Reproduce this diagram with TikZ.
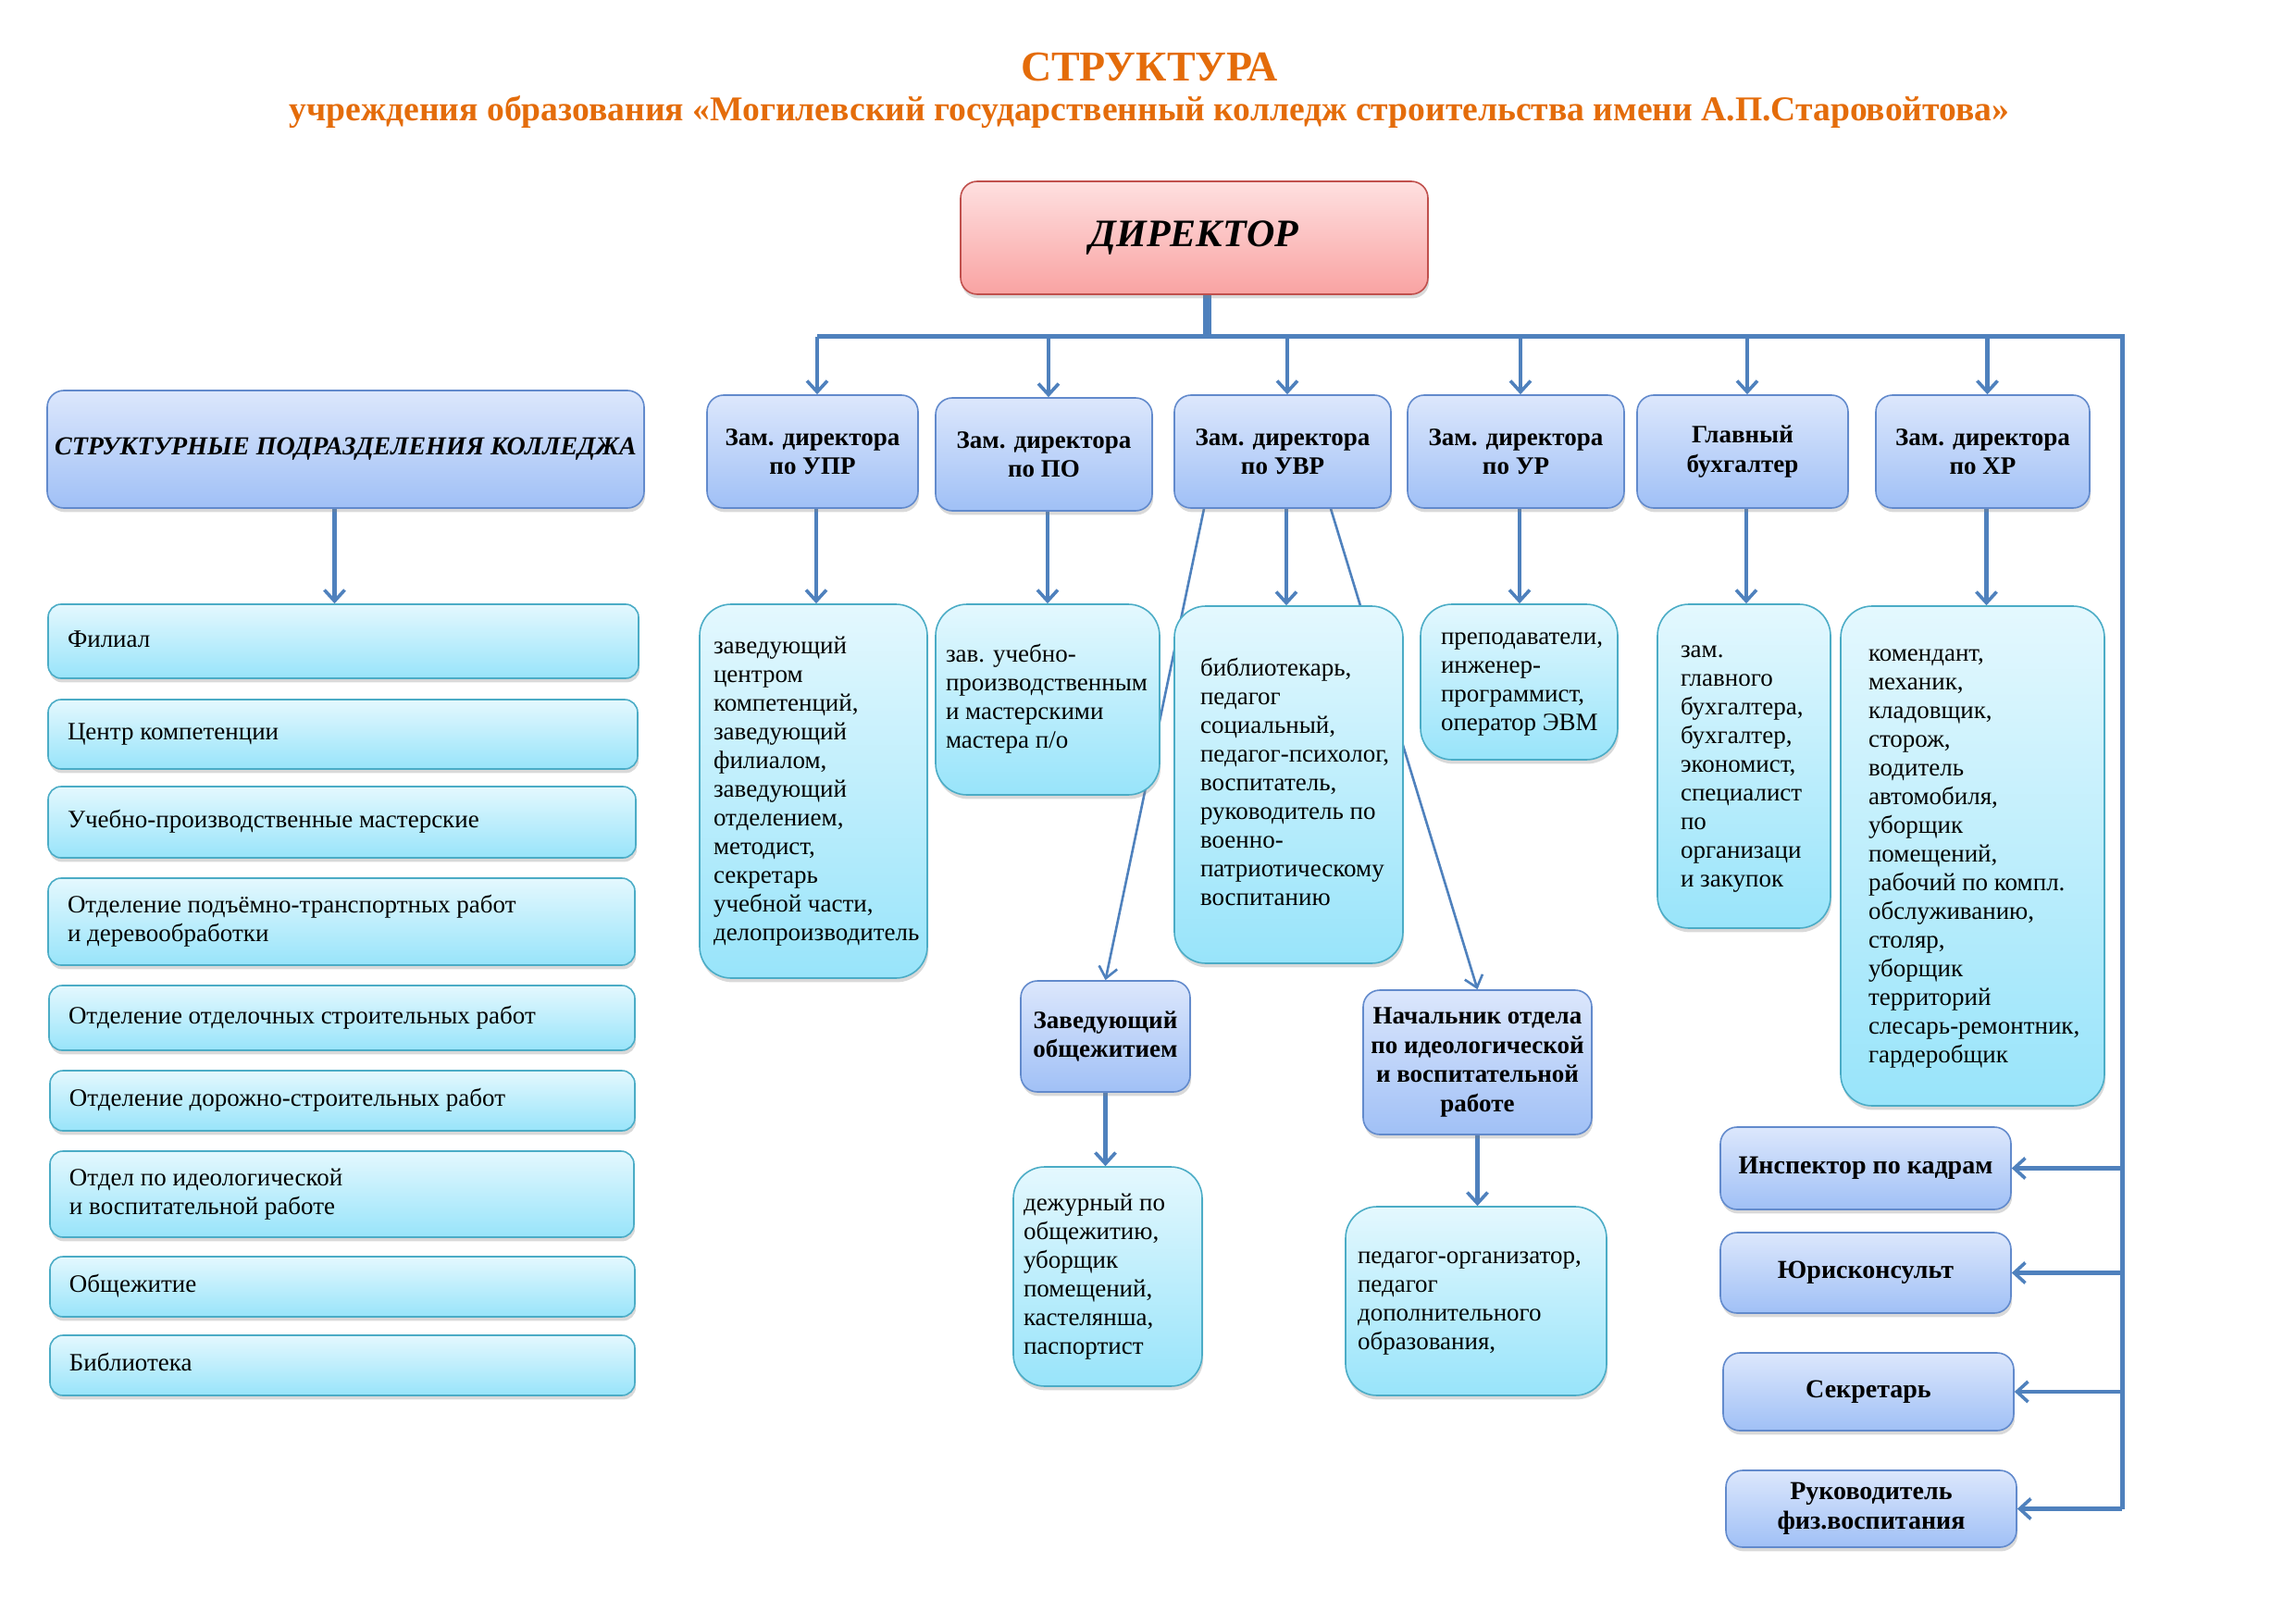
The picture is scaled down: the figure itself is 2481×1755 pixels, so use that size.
\documentclass[tikz,border=0pt]{standalone}
\usepackage{fontspec}
\setmainfont{Liberation Serif}
\usetikzlibrary{arrows.meta,shadows,calc}
\definecolor{ln}{RGB}{79,129,189}
\definecolor{btop}{RGB}{220,231,252}
\definecolor{bbot}{RGB}{160,192,246}
\definecolor{bbord}{RGB}{98,138,204}
\definecolor{ctop}{RGB}{228,248,254}
\definecolor{cbot}{RGB}{152,228,250}
\definecolor{cbord}{RGB}{75,172,198}
\definecolor{dtop}{RGB}{254,224,224}
\definecolor{dbot}{RGB}{249,163,162}
\definecolor{dbord}{RGB}{192,80,77}
\definecolor{orng}{RGB}{228,108,10}
\pgfdeclarelayer{bg}
\pgfsetlayers{bg,main}
\newcommand\mkcbox[8]{%
  \pgfmathsetmacro\myw{(#5-#3)*0.5}%
  \pgfmathsetmacro\myh{(#6-#4)*0.5}%
  \pgfmathsetmacro\mytw{(#5-#3-2*#7)*0.5}%
  \pgfmathsetmacro\mypad{#7*0.5}%
  \pgfmathsetmacro\mycx{(#3+#5)/2}%
  \pgfmathsetmacro\mycy{(#4+#6)/2}%
  \node[#1, minimum width=\myw pt, minimum height=\myh pt, inner xsep=\mypad pt, inner ysep=0pt] (#2) at (\mycx,\mycy) {\makebox[\mytw pt][l]{\begin{tabular}{@{}l@{}}#8\end{tabular}}};}
\newcommand\mkbbox[7]{%
  \pgfmathsetmacro\myw{(#5-#3)*0.5}%
  \pgfmathsetmacro\myh{(#6-#4)*0.5}%
  \pgfmathsetmacro\mycx{(#3+#5)/2}%
  \pgfmathsetmacro\mycy{(#4+#6)/2}%
  \node[#1, minimum width=\myw pt, minimum height=\myh pt] (#2) at (\mycx,\mycy) {#7};}
\tikzset{
  shad/.style={drop shadow={opacity=0.3, shadow xshift=0.6pt, shadow yshift=-2.2pt}},
  bluebox/.style={draw=bbord, line width=0.8pt, top color=btop, bottom color=bbot,
    rounded corners=9pt, shad, align=center, inner sep=1pt,
    font=\fontsize{13.5}{15.8}\selectfont\bfseries},
  cyanbox/.style={draw=cbord, line width=0.8pt, top color=ctop, bottom color=cbot,
    rounded corners=17pt, shad, font=\fontsize{13.5}{15.5}\selectfont},
  listbox/.style={cyanbox, rounded corners=7pt},
  dirbox/.style={draw=dbord, line width=0.8pt, top color=dtop, bottom color=dbot,
    rounded corners=9pt, shad, font=\fontsize{21}{24}\selectfont\bfseries\itshape},
  busline/.style={draw=ln, line width=2.5pt},
  arr/.style={draw=ln, line width=2.2pt, -{Straight Barb[length=6pt,width=11pt,line width=1.8pt]}},
  thinarr/.style={draw=ln, line width=1.3pt, -{Straight Barb[length=6pt,width=10pt,line width=1.3pt]}},
  titletext/.style={text=orng, font=\fontsize{23}{26}\selectfont\bfseries},
  subtext/.style={text=orng, font=\fontsize{18.8}{21}\selectfont\bfseries},
}
\begin{document}
\begin{tikzpicture}[x=0.5pt,y=-0.5pt]
\useasboundingbox (0,0) rectangle (2481,1755);
\node[titletext] (t1) at (1242,72) {СТРУКТУРА};
\node[subtext] (t2) at (1242,121) {учреждения образования «Могилевский государственный колледж строительства имени А.П.Старовойтова»};

\mkbbox{dirbox}{dir}{1038}{196}{1543}{318}{ДИРЕКТОР}

\mkbbox{bluebox,font=\fontsize{14}{16}\selectfont\bfseries\itshape}{struct}{51}{422}{696}{549}{СТРУКТУРНЫЕ ПОДРАЗДЕЛЕНИЯ КОЛЛЕДЖА}
\mkbbox{bluebox}{upr}{764}{427}{992}{549}{Зам. директора\\по УПР}
\mkbbox{bluebox}{po}{1011}{430}{1245}{552}{Зам. директора\\по ПО}
\mkbbox{bluebox}{uvr}{1269}{427}{1503}{549}{Зам. директора\\по УВР}
\mkbbox{bluebox}{ur}{1521}{427}{1755}{549}{Зам. директора\\по УР}
\mkbbox{bluebox}{gb}{1769}{427}{1997}{549}{Главный\\бухгалтер}
\mkbbox{bluebox}{hr}{2027}{427}{2258}{549}{Зам. директора\\по ХР}

\mkcbox{listbox}{fil}{52}{653}{690}{733}{21}{Филиал}
\mkcbox{listbox}{cent}{52}{756}{689}{831}{21}{Центр компетенции}
\mkcbox{listbox}{uchm}{52}{850}{687}{927}{21}{Учебно-производственные мастерские}
\mkcbox{listbox}{otda}{52}{949}{686}{1043}{21}{Отделение подъёмно-транспортных работ\\и деревообработки}
\mkcbox{listbox}{otdb}{53}{1065}{686}{1135}{21}{Отделение отделочных строительных работ}
\mkcbox{listbox}{otdc}{54}{1157}{686}{1222}{21}{Отделение дорожно-строительных работ}
\mkcbox{listbox}{otdi}{54}{1244}{685}{1337}{21}{Отдел по идеологической\\и воспитательной работе}
\mkcbox{listbox}{obsh}{54}{1358}{686}{1423}{21}{Общежитие}
\mkcbox{listbox}{bibl}{54}{1443}{686}{1508}{21}{Библиотека}

\mkcbox{cyanbox}{uprc}{756}{653}{1002}{1057}{15}{заведующий\\центром\\компетенций,\\заведующий\\филиалом,\\заведующий\\отделением,\\методист,\\секретарь\\учебной части,\\делопроизводитель}
\mkcbox{cyanbox}{poc}{1011}{653}{1253}{859}{11}{зав. учебно-\\производственным\\и мастерскими\\мастера п/о}
\mkcbox{cyanbox}{uvrc}{1269}{655}{1516}{1041}{28}{библиотекарь,\\педагог\\социальный,\\педагог-психолог,\\воспитатель,\\руководитель по\\военно-\\патриотическому\\воспитанию}
\mkcbox{cyanbox}{urc}{1535}{653}{1748}{821}{22}{преподаватели,\\инженер-\\программист,\\оператор ЭВМ}
\mkcbox{cyanbox}{gbc}{1791}{653}{1978}{1003}{25}{зам.\\главного\\бухгалтера,\\бухгалтер,\\экономист,\\специалист\\по\\организаци\\и закупок}
\mkcbox{cyanbox}{hrc}{1989}{655}{2274}{1195}{30}{комендант,\\механик,\\кладовщик,\\сторож,\\водитель\\автомобиля,\\уборщик\\помещений,\\рабочий по компл.\\обслуживанию,\\столяр,\\уборщик\\территорий\\слесарь-ремонтник,\\гардеробщик}

\mkbbox{bluebox}{zav}{1103}{1060}{1286}{1180}{Заведующий\\общежитием}
\mkcbox{cyanbox}{zavc}{1095}{1261}{1299}{1498}{11}{дежурный по\\общежитию,\\уборщик\\помещений,\\кастелянша,\\паспортист}
\mkbbox{bluebox}{nach}{1473}{1070}{1720}{1226}{Начальник отдела\\по идеологической\\и воспитательной\\работе}
\mkcbox{cyanbox}{nachc}{1454}{1304}{1736}{1508}{13}{педагог-организатор,\\педагог\\дополнительного\\образования,}

\mkbbox{bluebox,font=\fontsize{14}{16}\selectfont\bfseries}{kadr}{1859}{1218}{2173}{1307}{Инспектор по кадрам}
\mkbbox{bluebox,font=\fontsize{14}{16}\selectfont\bfseries}{jur}{1859}{1332}{2173}{1419}{Юрисконсульт}
\mkbbox{bluebox,font=\fontsize{14}{16}\selectfont\bfseries}{sekr}{1862}{1462}{2176}{1546}{Секретарь}
\mkbbox{bluebox,font=\fontsize{14}{16}\selectfont\bfseries}{ruk}{1865}{1589}{2179}{1672}{Руководитель\\физ.воспитания}

\coordinate (busTR) at (2293,364);
\coordinate (busL) at ([xshift=2.5pt]upr.north |- busTR);

\begin{pgfonlayer}{bg}
\draw[draw=ln, line width=4.5pt] ([xshift=6.75pt]dir.south) -- ([xshift=6.75pt]dir.south |- busTR);
\draw[busline, line join=miter] (busL) -- (busTR) -- (ruk.east -| busTR);
\foreach \n in {upr,po,uvr,ur,gb,hr}{
  \draw[arr] ([xshift=2.5pt]\n.north |- busTR) -- ([xshift=2.5pt]\n.north);
  \draw[arr] ([xshift=2pt]\n.south) -- ([xshift=2pt]\n.south |- \n c.north);
}
\foreach \n in {kadr,jur,sekr,ruk}{
  \draw[arr] (\n.east -| busTR) -- (\n.east);
}
\draw[arr] ([xshift=-6pt]struct.south) -- ([xshift=-6pt]struct.south |- fil.north);
\draw[thinarr] ([xshift=-42.5pt]uvr.south) -- (zav.north);
\draw[thinarr] ([xshift=26pt]uvr.south) -- (nach.north);
\draw[arr] (zav.south) -- (zav.south |- zavc.north);
\draw[arr] (nach.south) -- (nach.south |- nachc.north);
\end{pgfonlayer}
\end{tikzpicture}
\end{document}
